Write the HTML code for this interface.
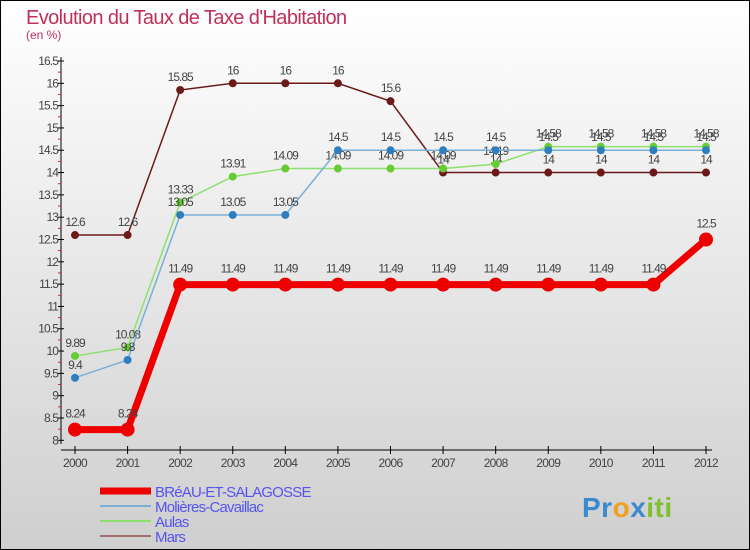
<!DOCTYPE html>
<html><head><meta charset="utf-8"><style>
body{margin:0}
#c{width:750px;height:550px;position:relative;overflow:hidden;font-family:"Liberation Sans",sans-serif}
</style></head><body>
<div id="c">
<svg id="s" width="750" height="550" xmlns="http://www.w3.org/2000/svg">
<defs><linearGradient id="bg" x1="0" y1="0" x2="0" y2="1"><stop offset="0" stop-color="#ffffff"/><stop offset="1" stop-color="#cfcfcf"/></linearGradient></defs>
<rect x="0.5" y="0.5" width="749" height="549" fill="url(#bg)" stroke="#000"/>
<text x="26" y="24" font-size="20" fill="#c0305a" letter-spacing="-0.6">Evolution du Taux de Taxe d'Habitation</text>
<text x="26" y="39" font-size="12" fill="#c0305a">(en %)</text>
<g id="axes"></g><g id="series"></g><g id="legend"></g>
</svg></div>
<script>
const years=["2000","2001","2002","2003","2004","2005","2006","2007","2008","2009","2010","2011","2012"];
const yTicks=[8,8.5,9,9.5,10,10.5,11,11.5,12,12.5,13,13.5,14,14.5,15,15.5,16,16.5];
const breau=[8.24,8.24,11.49,11.49,11.49,11.49,11.49,11.49,11.49,11.49,11.49,11.49,12.5];
const molieres=[9.4,9.8,13.05,13.05,13.05,14.5,14.5,14.5,14.5,14.5,14.5,14.5,14.5];
const aulas=[9.89,10.08,13.33,13.91,14.09,14.09,14.09,14.09,14.19,14.58,14.58,14.58,14.58];
const mars=[12.6,12.6,15.85,16,16,16,15.6,14,14,14,14,14,14];
const names=["BRéAU-ET-SALAGOSSE","Molières-Cavaillac","Aulas","Mars"];
const NS="http://www.w3.org/2000/svg";
const X=i=>75+i*(706-75)/12;
const Y=v=>440.3-(v-8)*(440.3-61)/8.5;
function mk(p,tag,at){const e=document.createElementNS(NS,tag);for(const k in at)e.setAttribute(k,at[k]);p.appendChild(e);return e;}
const ax=document.getElementById('axes');
let e=mk(ax,'line',{x1:61,y1:57,x2:61,y2:444,stroke:'#000','stroke-width':1});


e=mk(ax,'line',{x1:61,y1:450,x2:712,y2:450,stroke:'#000','stroke-width':1});


yTicks.forEach((t,i)=>{const y=Y(t);
 mk(ax,'line',{x1:58,y1:y,x2:64,y2:y,stroke:'#000'});
 if(i<yTicks.length-1)mk(ax,'line',{x1:58,y1:Y(t+0.25),x2:61,y2:Y(t+0.25),stroke:'#e02020'});
 const tx=mk(ax,'text',{x:58,y:y+4,'font-size':12,'text-anchor':'end',fill:'#444','letter-spacing':'-0.9'});tx.textContent=t;
 
 
});
years.forEach((yr,i)=>{const x=X(i);
 mk(ax,'line',{x1:x,y1:446,x2:x,y2:454,stroke:'#000'});
 const tx=mk(ax,'text',{x:x,y:467,'font-size':12,'text-anchor':'middle',fill:'#444','letter-spacing':'-0.7'});tx.textContent=yr;
 
 
});
const sg=document.getElementById('series');
const defs=[[mars,'#6b1a1a','#6b1a1a',1.5,4,'series-mars'],[aulas,'#8ee070','#66cc33',1.5,4,'series-aulas'],[molieres,'#7ab0d8','#2f7fc0',1.5,4,'series-molieres'],[breau,'#ee0000','#ee0000',7,7,'series-breau']];
defs.forEach(([d,lc,pc,w,r,nm])=>{
 const g=mk(sg,'g',{});
 
 
 mk(g,'polyline',{points:d.map((v,i)=>X(i)+','+Y(v)).join(' '),fill:'none',stroke:lc,'stroke-width':w});
 d.forEach((v,i)=>{
  const c=mk(g,'circle',{cx:X(i),cy:Y(v),r:r,fill:pc});
  
  
  const t=mk(g,'text',{x:X(i),y:Y(v)-(r+5),'font-size':12,'text-anchor':'middle',fill:'#444','letter-spacing':'-1'});t.textContent=v;
  
  
 });
});
const lg=document.getElementById('legend');
const lcol=['#ee0000','#7ab0d8','#8ee070','#a07070'],lw=[7,2,2,2],ly=[493,508,523,538];
names.forEach((n,i)=>{
 const g=mk(lg,'g',{});
 
 
 mk(g,'line',{x1:100,y1:ly[i]-2,x2:151,y2:ly[i]-2,stroke:lcol[i],'stroke-width':lw[i]});
 const t=mk(g,'text',{x:155,y:ly[i]+4,'font-size':15,fill:'#5555ee','letter-spacing':'-0.8'});t.textContent=n;
});
const p=mk(lg,'text',{x:582,y:517,'font-size':28,'font-weight':'bold',fill:'#3a8ad0','letter-spacing':'0.5'});


p.innerHTML='<tspan fill="#3a8ad0">Pr</tspan><tspan fill="#f0a020">o</tspan><tspan fill="#3a8ad0">x</tspan><tspan fill="#80c030">iti</tspan>';
</script>
</body></html>
